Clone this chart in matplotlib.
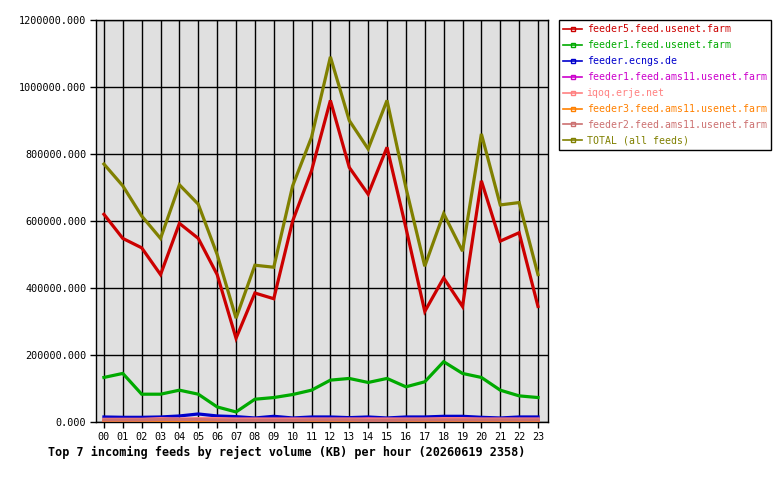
import numpy as np
import matplotlib
matplotlib.use("Agg")
import matplotlib.pyplot as plt
from matplotlib.lines import Line2D

hours = ["%02d" % h for h in range(24)]

feeder5 = [620000, 548000, 520000, 440000, 593000, 548000, 440000, 250000, 385000, 368000, 600000, 750000,
           960000, 760000, 680000, 820000, 580000, 330000, 430000, 345000, 720000, 540000, 565000, 345000]
feeder1 = [133000, 145000, 83000, 83000, 95000, 83000, 45000, 30000, 68000, 73000, 82000, 95000,
           125000, 130000, 118000, 130000, 105000, 120000, 180000, 145000, 133000, 95000, 78000, 73000]
ecngs = [15000, 14000, 14000, 15000, 18000, 24000, 18000, 16000, 12000, 17000, 12000, 15000,
         15000, 13000, 15000, 12000, 15000, 15000, 17000, 17000, 14000, 12000, 15000, 15000]
ams11_1 = [3000, 3000, 3000, 4000, 4000, 4000, 4000, 6000, 6000, 4000, 4000, 4000,
           4000, 4000, 9000, 5000, 4000, 4000, 4000, 4000, 4000, 4000, 4000, 4000]
iqoq = [8000, 8000, 8000, 10000, 9000, 10000, 10000, 9000, 9000, 9000, 9000, 9000,
        9000, 9000, 9000, 9000, 9000, 9000, 10000, 10000, 9000, 9000, 9000, 9000]
ams11_3 = [2000, 2000, 2000, 1000, 5000, 3000, 2000, 2000, 2000, 2000, 3000, 2000,
           3000, 2000, 2000, 2000, 2000, 2000, 2000, 2000, 2000, 2000, 1000, 2000]
ams11_2 = [6000, 6000, 6000, 7000, 7000, 7000, 6000, 5000, 5000, 5000, 5000, 6000,
           6000, 6000, 5000, 5000, 6000, 6000, 6000, 6000, 6000, 6000, 6000, 6000]
total = [770000, 705000, 615000, 548000, 708000, 650000, 500000, 310000, 468000, 462000, 705000, 850000,
         1090000, 900000, 815000, 960000, 700000, 465000, 622000, 510000, 860000, 648000, 655000, 440000]

names = ["feeder5.feed.usenet.farm", "feeder1.feed.usenet.farm", "feeder.ecngs.de",
         "feeder1.feed.ams11.usenet.farm", "iqoq.erje.net", "feeder3.feed.ams11.usenet.farm",
         "feeder2.feed.ams11.usenet.farm", "TOTAL (all feeds)"]
colors = ["#cc0000", "#00aa00", "#0000cc", "#cc00cc", "#ff8080", "#ff8000", "#cc7070", "#808000"]
series = [feeder5, feeder1, ecngs, ams11_1, iqoq, ams11_3, ams11_2, total]

plt.rcParams['font.family'] = ['DejaVu Sans Mono']
fig = plt.figure(figsize=(7.8, 4.8), dpi=100)
ax = fig.add_axes([96 / 780, 58 / 480, 452 / 780, 402 / 480])
ax.set_facecolor("#e0e0e0")

x = np.arange(24)
for vals, c in zip(series, colors):
    ax.plot(x, vals, color=c, lw=2.3, solid_joinstyle="miter", zorder=3)

ax.set_xlim(-0.42, 23.53)
ax.set_ylim(0, 1200000)
ax.set_xticks(x)
ax.set_xticklabels(hours, fontsize=7.3)
ax.set_yticks(np.arange(0, 1200001, 200000))
ax.set_yticklabels(["%.3f" % v for v in np.arange(0, 1200001, 200000)], fontsize=7.3)
ax.grid(True, color="black", lw=1, zorder=1)
ax.set_axisbelow(True)
ax.tick_params(length=4, width=1, color="black", pad=3)
for s in ax.spines.values():
    s.set_linewidth(1)
    s.set_color("black")

fig.text(48 / 780, 1 - 452 / 480, "Top 7 incoming feeds by reject volume (KB) per hour (20260619 2358)",
         fontsize=8.45, fontweight="bold", va="center", ha="left")

handles = [Line2D([0], [0], color=c, lw=1.2, marker="s", markersize=3,
                  markerfacecolor="none", markeredgecolor=c) for c in colors]
leg = fig.legend(handles, names, loc="upper left", bbox_to_anchor=(559 / 780, 1 - 20 / 480),
                 borderaxespad=0, fontsize=7.1, handlelength=1.9, handletextpad=0.45,
                 labelspacing=0.6, fancybox=False, edgecolor="black", framealpha=1,
                 borderpad=0.45)
leg.get_frame().set_linewidth(1)
for t, c in zip(leg.get_texts(), colors):
    t.set_color(c)

fig.savefig("out.png", dpi=100)
